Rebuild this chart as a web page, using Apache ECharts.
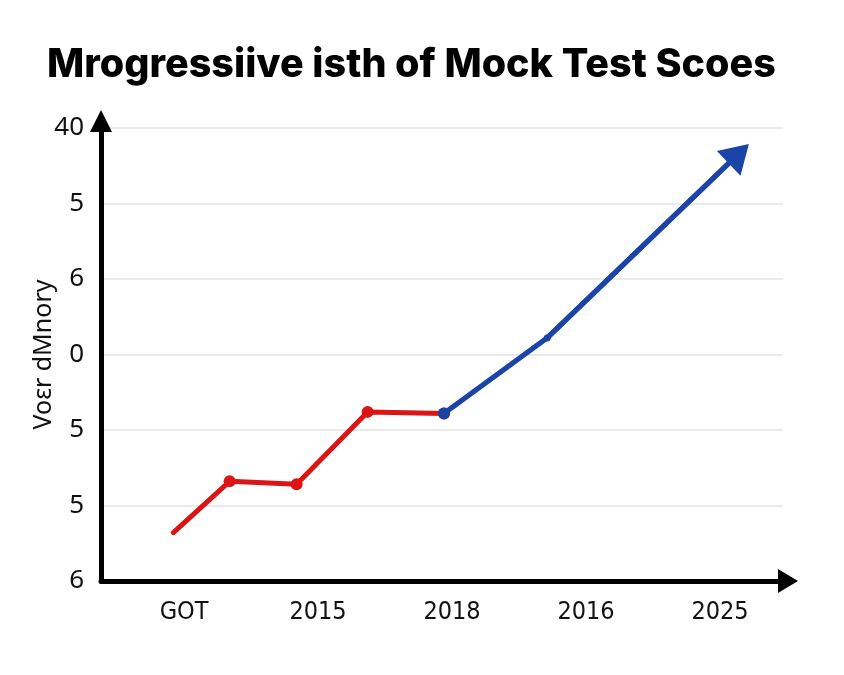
<!DOCTYPE html>
<html>
<head>
<meta charset="utf-8">
<script src="https://cdn.jsdelivr.net/npm/echarts@6/dist/echarts.min.js"></script>
<style>
  html, body { margin: 0; padding: 0; background: #fff; }
  #main { width: 844px; height: 675px; }
</style>
</head>
<body>
<div id="main"></div>
<script>
// tick labels as printed in the picture
const xTickLabels = ["GOT", "2015", "2018", "2016", "2025"];
const yTickLabels = ["6", "5", "5", "0", "6", "5", "40"];

// [x, y] in axis units (x: 1 = first label, y: 0 = bottom gridline)
const redScores = [[0.92, 0.64], [1.34, 1.32], [1.84, 1.28], [2.37, 2.24], [2.94, 2.22]];
const blueScores = [[2.94, 2.22], [3.71, 3.22], [5.14, 5.66]];

const chart = echarts.init(document.getElementById("main"));

const option = {
  animation: false,
  title: {
    text: "Mrogressiive isth of Mock Test Scoes",
    left: 42,
    top: 40,
    textStyle: {
      fontFamily: "Inter",
      fontWeight: 800,
      fontSize: 39.5,
      color: "#000"
    }
  },
  grid: {
    left: 101,
    right: 61,
    top: 128,
    bottom: 94,
    containLabel: false
  },
  xAxis: {
    type: "value",
    min: 0.38,
    max: 5.47,
    axisLine: {
      lineStyle: { color: "#000", width: 5 },
      symbol: ["none", "triangle"],
      symbolSize: [24, 20],
      symbolOffset: [0, 5]
    },
    axisTick: { show: false, customValues: [1, 2, 3, 4, 5] },
    splitLine: { show: false },
    axisLabel: {
      customValues: [1, 2, 3, 4, 5],
      margin: 19,
      fontFamily: "DejaVu Sans Condensed, DejaVu Sans",
      fontSize: 25,
      color: "#111",
      formatter: v => xTickLabels[Math.round(v) - 1]
    }
  },
  yAxis: {
    type: "value",
    min: 0,
    max: 6,
    interval: 1,
    name: "Voεr dMnory",
    nameLocation: "middle",
    nameGap: 45,
    nameMoveOverlap: false,
    nameTextStyle: {
      fontFamily: "Noto Sans",
      fontSize: 25,
      color: "#111"
    },
    axisLine: {
      show: true,
      lineStyle: { color: "#000", width: 5 },
      symbol: ["none", "triangle"],
      symbolSize: [22, 22],
      symbolOffset: [0, 7]
    },
    axisTick: { show: false },
    splitLine: {
      lineStyle: { color: "#ebebeb", width: 2 }
    },
    axisLabel: {
      margin: 17,
      fontFamily: "Noto Sans",
      fontSize: 26,
      color: "#111",
      formatter: v => yTickLabels[v]
    }
  },
  series: [
    {
      type: "line",
      data: redScores.map((p, i) => ({
        value: p,
        symbolSize: i === 0 ? 0 : 12
      })),
      symbol: "circle",
      lineStyle: { color: "#dc1414", width: 5, cap: "round" },
      itemStyle: { color: "#dc1414" },
      z: 3
    },
    {
      type: "line",
      data: blueScores.map((p, i) => ({
        value: p,
        symbolSize: i === 0 ? 12 : (i === 1 ? 7 : 0)
      })),
      symbol: "circle",
      lineStyle: { color: "#1a44a8", width: 5 },
      itemStyle: { color: "#1a44a8" },
      z: 4,
      markLine: {
        silent: true,
        symbol: ["none", "triangle"],
        symbolSize: [34, 28],
        label: { show: false },
        lineStyle: { color: "#1a44a8", width: 5, type: "solid" },
        data: [[
          { coord: blueScores[1] },
          { coord: blueScores[2] }
        ]]
      }
    }
  ]
};

chart.setOption(option);
</script>
</body>
</html>
